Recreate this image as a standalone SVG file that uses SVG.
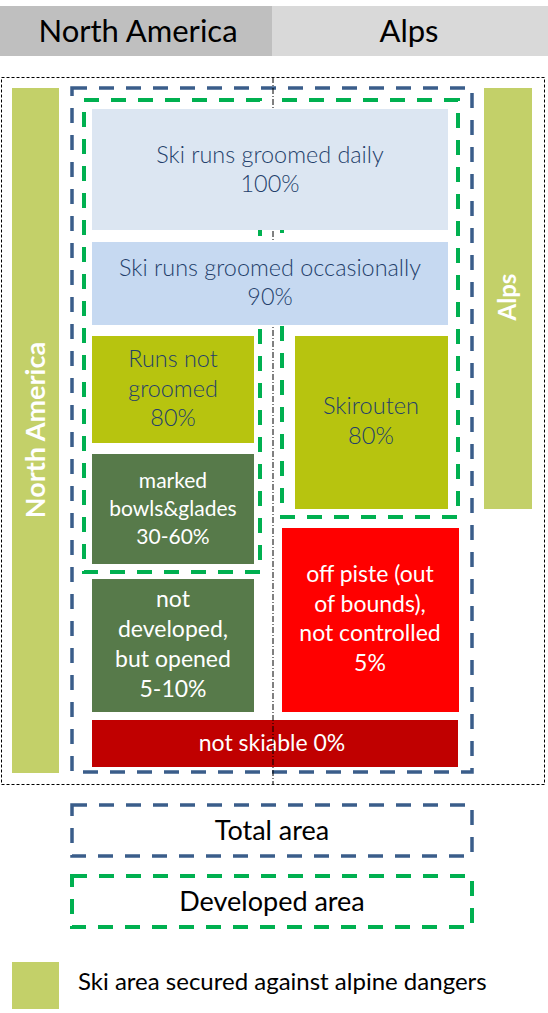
<svg xmlns="http://www.w3.org/2000/svg" width="548" height="1013" viewBox="0 0 548 1013">
<style>
.t{font-family:Lato,"Liberation Sans",sans-serif;text-anchor:middle}
.dk{fill:#243f6b;font-weight:300}
.wh{fill:#ffffff}
.bar{fill:#c3d069}
.blue{fill:none;stroke:#3a5d8a;stroke-width:3.5;stroke-dasharray:15 12}
.green{fill:none;stroke:#00b050;stroke-width:4;stroke-dasharray:15 12}
</style>
<rect width="548" height="1013" fill="#ffffff"/>
<g id="header">
<rect x="0" y="6" width="272" height="50" fill="#bfbfbf"/>
<rect x="272" y="6" width="276" height="50" fill="#d9d9d9"/>
<text class="t" x="138" y="42" font-size="31" fill="#000">North America</text>
<text class="t" x="409" y="42" font-size="31" fill="#000">Alps</text>
</g>
<g id="frame">
<rect x="1.5" y="77.5" width="543" height="707" fill="none" stroke="#000" stroke-width="1" stroke-dasharray="3 2"/>
</g>
<g id="bar-na">
<rect class="bar" x="12" y="88" width="47" height="685"/>
<text class="t wh" transform="translate(45,430) rotate(-90)" font-size="27" font-weight="bold">North America</text>
</g>
<g id="bar-alps">
<rect class="bar" x="484" y="88" width="48" height="421"/>
<text class="t wh" transform="translate(516,297) rotate(-90)" font-size="24" font-weight="bold">Alps</text>
</g>
<g id="total-area">
<rect class="blue" x="72" y="88" width="400" height="684"/>
</g>
<g id="developed-area">
<rect class="green" x="84" y="100" width="176" height="472"/>
<rect class="green" x="282" y="100" width="176" height="417"/>
</g>
<g id="not-skiable">
<rect x="92" y="720" width="366" height="47" fill="#c00000"/>
<text class="t wh" x="272" y="751" font-size="23">not skiable 0%</text>
</g>
<g id="connectors">
<line x1="273" y1="77" x2="273" y2="785" stroke="#000" stroke-width="1" stroke-dasharray="6 2 1 2"/>
</g>
<g id="groomed-daily">
<rect x="92" y="109" width="356" height="121" fill="#dce6f2"/>
<text class="t dk" x="270" y="163" font-size="23.4">Ski runs groomed daily</text>
<text class="t dk" x="270" y="192" font-size="23.4">100%</text>
</g>
<g id="groomed-occasionally">
<rect x="92" y="242" width="356" height="83" fill="#c6d9f1"/>
<text class="t dk" x="270" y="276" font-size="23.4">Ski runs groomed occasionally</text>
<text class="t dk" x="270" y="305" font-size="23.4">90%</text>
</g>
<g id="runs-not-groomed">
<rect x="92" y="336" width="162" height="107" fill="#b7c40f"/>
<text class="t dk" x="173" y="367" font-size="23.4">Runs not</text>
<text class="t dk" x="173" y="397" font-size="23.4">groomed</text>
<text class="t dk" x="173" y="426" font-size="23.4">80%</text>
</g>
<g id="marked-bowls">
<rect x="92" y="454" width="162" height="110" fill="#577a4a"/>
<text class="t wh" x="173" y="488" font-size="21">marked</text>
<text class="t wh" x="173" y="516" font-size="21">bowls&amp;glades</text>
<text class="t wh" x="173" y="544" font-size="21">30-60%</text>
</g>
<g id="skirouten">
<rect x="295" y="336" width="153" height="173" fill="#b7c40f"/>
<text class="t dk" x="371" y="414" font-size="23.6">Skirouten</text>
<text class="t dk" x="371" y="444" font-size="23.6">80%</text>
</g>
<g id="not-developed">
<rect x="92" y="579" width="162" height="133" fill="#577a4a"/>
<text class="t wh" x="173" y="607" font-size="23">not</text>
<text class="t wh" x="173" y="637" font-size="23">developed,</text>
<text class="t wh" x="173" y="667" font-size="23">but opened</text>
<text class="t wh" x="173" y="697" font-size="23">5-10%</text>
</g>
<g id="off-piste">
<rect x="282" y="528" width="177" height="184" fill="#ff0000"/>
<text class="t wh" x="370" y="582" font-size="23">off piste (out</text>
<text class="t wh" x="370" y="612" font-size="23">of bounds),</text>
<text class="t wh" x="370" y="641" font-size="23">not controlled</text>
<text class="t wh" x="370" y="671" font-size="23">5%</text>
</g>
<g id="legend-total">
<rect class="blue" x="72" y="805" width="400" height="51"/>
<text class="t" x="272" y="840" font-size="27" fill="#000">Total area</text>
</g>
<g id="legend-developed">
<rect class="green" x="72" y="876" width="400" height="51"/>
<text class="t" x="272" y="911" font-size="27" fill="#000">Developed area</text>
</g>
<g id="legend-secured">
<rect class="bar" x="12" y="962" width="47" height="47"/>
<text x="78" y="990" font-family="Lato,'Liberation Sans',sans-serif" font-size="24" fill="#000">Ski area secured against alpine dangers</text>
</g>
</svg>
